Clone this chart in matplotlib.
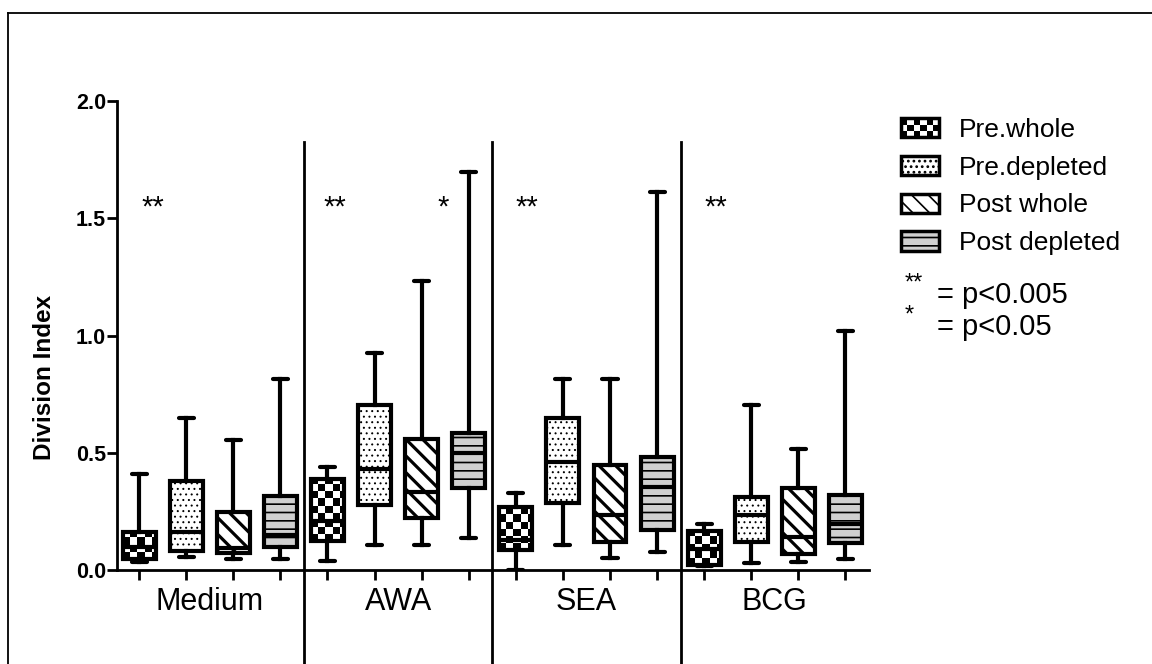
import numpy as np
import matplotlib
import matplotlib.pyplot as plt
from matplotlib.patches import Rectangle, Patch
from matplotlib.lines import Line2D
from matplotlib.legend_handler import HandlerBase

plt.rcParams['font.family'] = ['Liberation Sans', 'DejaVu Sans']

groups = ["Medium", "AWA", "SEA", "BCG"]
series = ["Pre.whole", "Pre.depleted", "Post whole", "Post depleted"]

# five-number summaries, one value per group (Medium, AWA, SEA, BCG)
pre_whole_lo = [0.035, 0.038, 0.00, 0.015]
pre_whole_q1 = [0.045, 0.124, 0.085, 0.021]
pre_whole_med = [0.10, 0.21, 0.128, 0.09]
pre_whole_q3 = [0.16, 0.39, 0.27, 0.168]
pre_whole_hi = [0.41, 0.438, 0.327, 0.196]

pre_depl_lo = [0.057, 0.107, 0.107, 0.028]
pre_depl_q1 = [0.082, 0.277, 0.287, 0.121]
pre_depl_med = [0.16, 0.429, 0.462, 0.235]
pre_depl_q3 = [0.38, 0.704, 0.647, 0.313]
pre_depl_hi = [0.647, 0.924, 0.815, 0.704]

post_whole_lo = [0.047, 0.107, 0.05, 0.036]
post_whole_q1 = [0.074, 0.223, 0.121, 0.067]
post_whole_med = [0.092, 0.334, 0.235, 0.142]
post_whole_q3 = [0.249, 0.557, 0.448, 0.348]
post_whole_hi = [0.554, 1.232, 0.815, 0.515]

post_depl_lo = [0.047, 0.138, 0.078, 0.047]
post_depl_q1 = [0.097, 0.351, 0.171, 0.116]
post_depl_med = [0.15, 0.50, 0.355, 0.196]
post_depl_q3 = [0.317, 0.586, 0.483, 0.32]
post_depl_hi = [0.813, 1.699, 1.61, 1.02]

# significance marks: (x position, label)
sig_pos = [0.3, 4.16, 6.45, 8.24, 12.25]
sig_txt = ["**", "**", "*", "**", "**"]

summaries = [
    (pre_whole_lo, pre_whole_q1, pre_whole_med, pre_whole_q3, pre_whole_hi),
    (pre_depl_lo, pre_depl_q1, pre_depl_med, pre_depl_q3, pre_depl_hi),
    (post_whole_lo, post_whole_q1, post_whole_med, post_whole_q3, post_whole_hi),
    (post_depl_lo, post_depl_q1, post_depl_med, post_depl_q3, post_depl_hi),
]

# styles: facecolor, hatch, hatch linewidth
styles = [
    ('none', None, 1.0),
    ('white', '...', 0.7),
    ('white', '\\\\', 2.3),
    ('#d0d0d0', '--', 1.2),
]

W = 0.7


def set_hlw(p, lw):
    if hasattr(p, 'set_hatch_linewidth'):
        p.set_hatch_linewidth(lw)


fig = plt.figure(figsize=(11.52, 6.64), dpi=100)
ax = fig.add_axes([117 / 1152, 94 / 664, 752 / 1152, 469 / 664])

for s, (lo, q1, med, q3, hi) in enumerate(summaries):
    fc, hatch, hlw = styles[s]
    plt.rcParams['hatch.linewidth'] = hlw
    stats = []
    for g in range(len(groups)):
        stats.append(dict(whislo=lo[g], q1=q1[g], med=med[g], q3=q3[g], whishi=hi[g]))
    pos = [g * 4 + s for g in range(len(groups))]
    bp = ax.bxp(stats, positions=pos, widths=W, capwidths=0.32, patch_artist=True,
                showfliers=False, manage_ticks=False,
                boxprops=dict(linewidth=3, edgecolor='black', facecolor=fc, hatch=hatch),
                whiskerprops=dict(linewidth=3, color='black'),
                capprops=dict(linewidth=3, color='black', solid_capstyle='round'),
                medianprops=dict(linewidth=3, color='black'))
    for b in bp['boxes']:
        set_hlw(b, hlw)
    if s == 0:
        # checkerboard fill, clipped to each box
        cx, cy = 0.15, 0.03
        for g, b in enumerate(bp['boxes']):
            x0 = pos[g] - W / 2
            ncol = int(np.ceil(W / cx))
            nrow = int(np.ceil((q3[g] - q1[g]) / cy)) + 1
            chk = np.indices((nrow, ncol)).sum(axis=0) % 2
            im = ax.imshow(chk, cmap='gray', extent=(x0, x0 + ncol * cx, q1[g], q1[g] + nrow * cy),
                           origin='lower', interpolation='nearest', aspect='auto', zorder=1.9)
            im.set_clip_path(b)

ax.set_aspect('auto')
ax.set_xlim(-0.47, 15.5)
ax.set_ylim(0, 2.0)

# group dividers, running down past the axis
for xd in [3.5, 7.5, 11.5]:
    ax.plot([xd, xd], [1.826, -0.42], color='black', lw=2, clip_on=False)

for xp, t in zip(sig_pos, sig_txt):
    ax.text(xp, 1.51, t, ha='center', va='baseline', fontsize=21)

ax.spines['top'].set_visible(False)
ax.spines['right'].set_visible(False)
ax.spines['left'].set_linewidth(2)
ax.spines['bottom'].set_linewidth(2)

ax.set_xticks([g * 4 + s for g in range(4) for s in range(4)], labels=[])
ax.set_xticks([1.5, 5.5, 9.5, 13.5], labels=groups, minor=True)
ax.tick_params(axis='x', which='major', direction='out', length=7, width=2)
ax.tick_params(axis='x', which='minor', length=0, labelsize=22, pad=12)

yt = [0, 0.5, 1.0, 1.5, 2.0]
ax.set_yticks(yt, labels=['%.1f' % v for v in yt])
ax.tick_params(axis='y', direction='out', length=7, width=2, labelsize=15.5, pad=1)
for lab in ax.get_yticklabels():
    lab.set_fontweight('bold')
ax.set_ylabel('Division Index', fontsize=17.5, fontweight='bold')
ax.yaxis.set_label_coords(-0.081, 0.41)


class CheckerHandler(HandlerBase):
    def create_artists(self, legend, orig_handle, xdescent, ydescent, width, height, fontsize, trans):
        arts = []
        nx, ny = 6, 3
        w, h = width / nx, height / ny
        for i in range(nx):
            for j in range(ny):
                if (i + j) % 2 == 0:
                    arts.append(Rectangle((-xdescent + i * w, -ydescent + j * h), w, h,
                                          facecolor='black', edgecolor='none', transform=trans))
        arts.append(Rectangle((-xdescent, -ydescent), width, height, facecolor='none',
                              edgecolor='black', lw=2.5, transform=trans))
        return arts


handles = []
for s, (fc, hatch, hlw) in enumerate(styles):
    plt.rcParams['hatch.linewidth'] = hlw
    h = Patch(facecolor='white' if fc == 'none' else fc, edgecolor='black', hatch=hatch, lw=2.5)
    set_hlw(h, hlw)
    handles.append(h)

ax.legend(handles, series, handler_map={handles[0]: CheckerHandler()},
          loc='upper left', bbox_to_anchor=(901 / 1152, 1 - 118 / 664),
          bbox_transform=fig.transFigure, frameon=False, fontsize=19,
          handlelength=1.45, handleheight=0.75, labelspacing=0.52,
          handletextpad=0.75, borderpad=0, borderaxespad=0)

fig.text(905 / 1152, 1 - 284 / 664, '**', fontsize=17, ha='left', va='center')
fig.text(937 / 1152, 1 - 295 / 664, '= p<0.005', fontsize=21, ha='left', va='center')
fig.text(905 / 1152, 1 - 316 / 664, '*', fontsize=17, ha='left', va='center')
fig.text(937 / 1152, 1 - 327 / 664, '= p<0.05', fontsize=21, ha='left', va='center')

# partial frame around the figure
fig.add_artist(Line2D([8 / 1152, 1.0], [1 - 13 / 664] * 2, color='black', lw=1.3))
fig.add_artist(Line2D([8 / 1152] * 2, [0, 1 - 13 / 664], color='black', lw=1.3))

fig.savefig('out.png', dpi=100)
